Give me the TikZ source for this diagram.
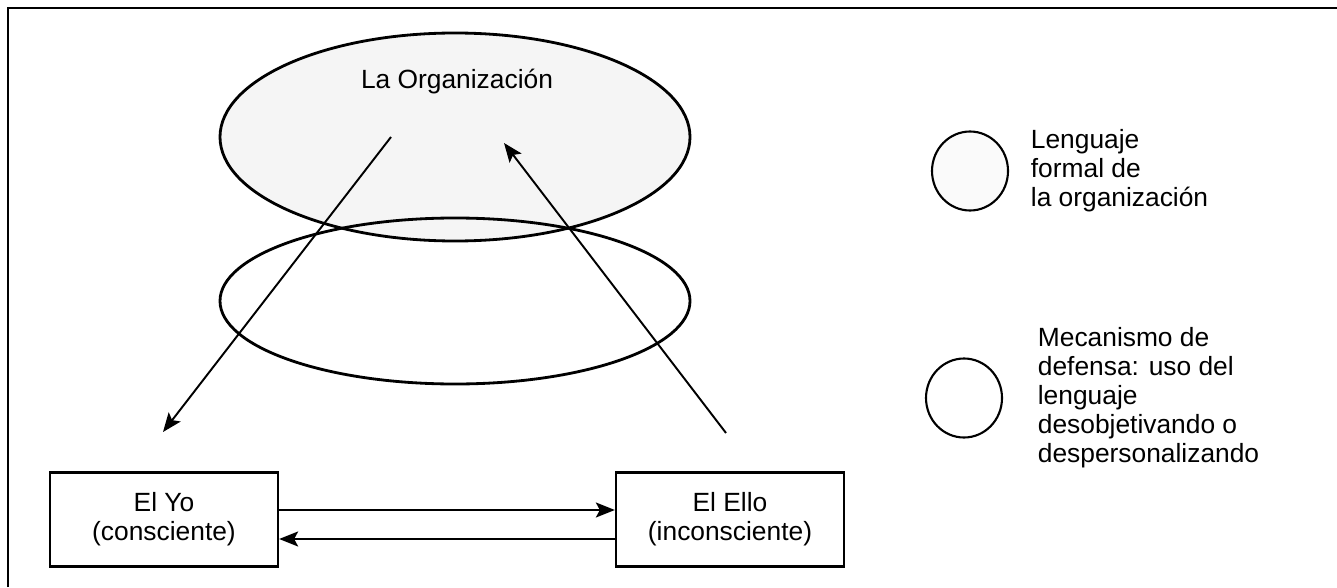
\documentclass[tikz,border=0pt]{standalone}
\usepackage{fontspec}
\setmainfont{Liberation Sans}
\usetikzlibrary{shapes.geometric,arrows.meta}

\begin{document}
\begin{tikzpicture}[line width=1pt,
  every node/.style={font=\fontsize{15pt}{16.5pt}\selectfont},
  box/.style={draw, line width=1.3pt, minimum width=4.56cm, minimum height=1.88cm, align=center},
  arr/.style={-{Stealth[length=3.8mm,width=3mm,inset=0.8mm]}, line width=1.1pt},
  legend/.style={draw, ellipse, line width=1.2pt, minimum width=1.52cm, minimum height=1.58cm},
  speckle/.style={fill=gray!8}]

\useasboundingbox (0,0) rectangle (26.74, 11.74);

% marco
\draw[line width=1.1pt] (0.16, 0) -- (0.16, 11.58) -- (26.74, 11.58);

\filldraw[speckle, line width=1.6pt] (9.1, 9.0) ellipse (4.7 and 2.08);

\draw[line width=1.6pt] (9.1, 5.72) ellipse (4.7 and 1.66);

\draw (9.14, 10.1) node (org) {La Organización};

\draw (7.82, 9.0) coordinate (a);
\draw (3.26, 3.1) coordinate (b);
\draw (14.52, 3.08) coordinate (c);
\draw (10.08, 8.88) coordinate (d);

\draw[arr] (a) -- (b);
\draw[arr] (c) -- (d);

\draw (3.28, 1.35) node[box] (yo) {El Yo\\(consciente)};

\draw (14.6, 1.35) node[box] (ello) {El Ello\\(inconsciente)};

\draw[arr] ([yshift=0.19cm]yo.east) -- ([yshift=0.19cm]ello.west);
\draw[arr] ([yshift=-0.39cm]ello.west) -- ([yshift=-0.39cm]yo.east);

% leyenda
\draw (19.4, 8.32) node[legend, fill=gray!4] (l1){};
\draw (20.6, 8.32) node[anchor=west, align=left, inner sep=0] (t1) {Lenguaje\\formal de\\la organización};

\draw (19.28, 3.78) node[legend] (l2){};
\draw (20.74, 3.78) node[anchor=west, align=left, inner sep=0] (t2) {Mecanismo de\\defensa: uso del\\lenguaje\\desobjetivando o\\despersonalizando};

\end{tikzpicture}
\end{document}
